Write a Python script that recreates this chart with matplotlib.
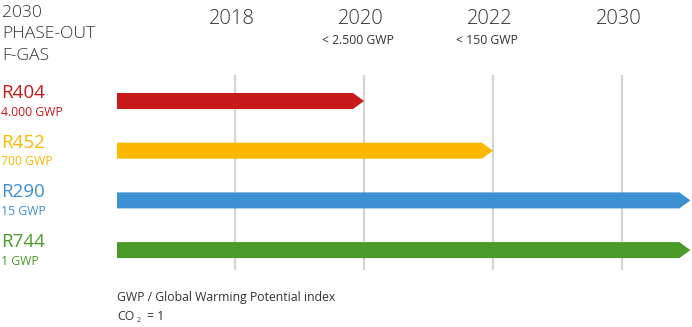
import matplotlib
matplotlib.use("Agg")
import matplotlib.pyplot as plt

plt.rcParams['font.family'] = ['Open Sans', 'DejaVu Sans']

# ---- data ----
years = ["2018", "2020", "2022", "2030"]
year_notes = ["", "< 2.500 GWP", "< 150 GWP", ""]
refrigerants = ["R404", "R452", "R290", "R744"]
gwp_labels = ["4.000 GWP", "700 GWP", "15 GWP", "1 GWP"]
# phase-out end position, in year-column units (0 = 2018, 1 = 2020, 2 = 2022, 3 = 2030)
phase_end = [1.0, 2.0, 3.53, 3.53]
phase_start = -0.915
colors = ["#C8191B", "#FBB800", "#3C90D2", "#4A9A27"]

W, H = 692, 327
fig = plt.figure(figsize=(W / 100, H / 100), dpi=100)
ax = fig.add_axes([0, 0, 1, 1])

# pixel mapping helpers (layout only)
X0, DX = 235.0, 129.0
Y0, DY = 101.0, 49.7
ax.set_xlim(-X0 / DX, (W - X0) / DX)
ax.set_ylim((H - Y0) / DY, -Y0 / DY)
ax.axis("off")

def fx(px):
    return px / W

def fy(py):
    return 1 - py / H

TXT = "#333333"
SMALL = 8.8

# grid lines
ax.vlines(range(len(years)), (75 - Y0) / DY, (270 - Y0) / DY,
          color="#D4D4D4", lw=1.6, zorder=1)

# arrows
bar_h = 16 / DY
tip = 11 / DX
for i, (end, c) in enumerate(zip(phase_end, colors)):
    xs = [phase_start, end - tip, end, end - tip, phase_start]
    ys = [i - bar_h / 2, i - bar_h / 2, i, i + bar_h / 2, i + bar_h / 2]
    ax.fill(xs, ys, color=c, lw=0, zorder=2)

# year headers
for j, (yr, note) in enumerate(zip(years, year_notes)):
    xp = X0 + DX * j - 3
    fig.text(fx(xp), fy(19), yr, ha="center", va="center", fontsize=14.5,
             color=TXT, fontweight="light")
    if note:
        fig.text(fx(xp - 3), fy(41), note, ha="center", va="center",
                 fontsize=SMALL, color=TXT)

# title
for k, line in enumerate(["2030", "PHASE-OUT", "F-GAS"]):
    fig.text(fx(2), fy(13 + 21.5 * k), line, ha="left", va="center",
             fontsize=12.6, color=TXT, fontweight="light")

# row labels
for i, (name, g, c) in enumerate(zip(refrigerants, gwp_labels, colors)):
    yc = Y0 + DY * i
    fig.text(fx(1), fy(yc - 8), name, ha="left", va="center", fontsize=13.5,
             color=c)
    fig.text(fx(1), fy(yc + 11), g, ha="left", va="center", fontsize=SMALL, color=c)

# footnote
fig.text(fx(117), fy(298), "GWP / Global Warming Potential index", ha="left", va="center",
         fontsize=SMALL, color=TXT)
fig.text(fx(117), fy(317), "CO", ha="left", va="center", fontsize=SMALL, color=TXT)
fig.text(fx(137), fy(320), "2", ha="left", va="center", fontsize=5, color=TXT)
fig.text(fx(147), fy(317), "= 1", ha="left", va="center", fontsize=SMALL, color=TXT)

fig.savefig("out.png", dpi=100, facecolor="white")
